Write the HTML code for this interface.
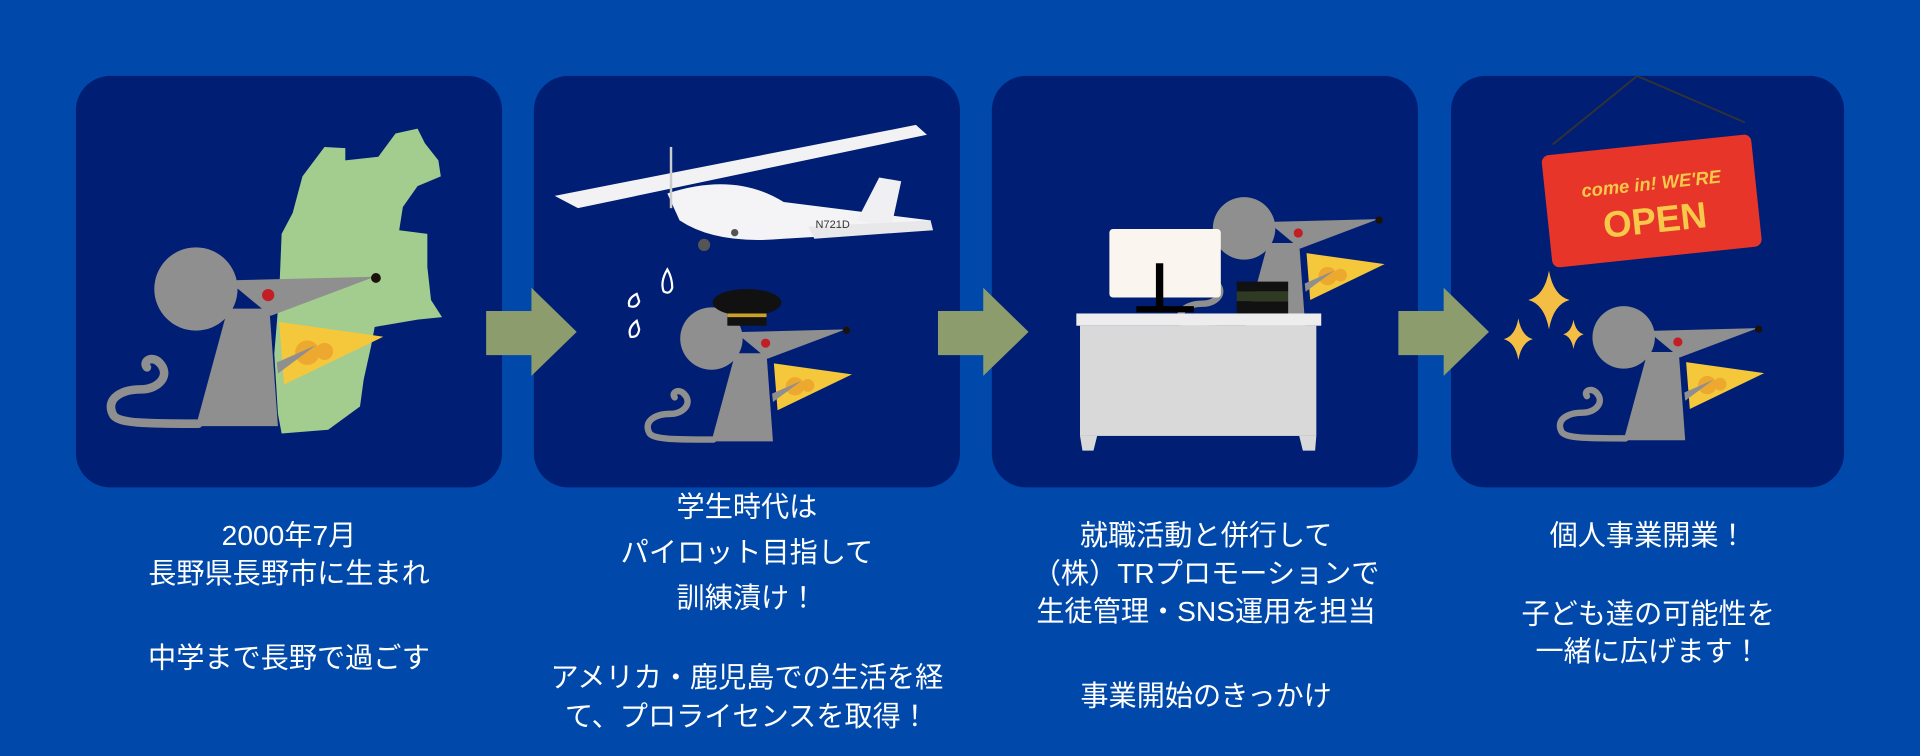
<!DOCTYPE html>
<html><head><meta charset="utf-8"><style>
html,body{margin:0;padding:0;background:#0049AA;}
svg{display:block}
text{font-family:"Liberation Sans","Noto Sans CJK JP",sans-serif;fill:#fff;font-size:23px;text-anchor:middle}
</style></head><body>
<svg width="1920" height="756" viewBox="0 0 1568 617.4" xmlns="http://www.w3.org/2000/svg">
<defs>
<g id="mouse">
  <path d="M162,346 C120,346 95,346 92,338 C86,325 100,318 115,318 C130,318 140,306 130,296 C124,290 116,295 120,300" fill="none" stroke="#8f8f8f" stroke-width="7" stroke-linecap="round"/>
  <circle cx="160" cy="236" r="34" fill="#8f8f8f"/>
  <polygon points="186,229 306,226 221,258" fill="#8f8f8f"/>
  <polygon points="186,252 220,252 227,348 160,348" fill="#8f8f8f"/>
  <circle cx="307" cy="227" r="4" fill="#1a1208"/>
  <circle cx="219" cy="241" r="5" fill="#c21e24"/>
  <polygon points="228,263 313,275 232,314" fill="#F5C83C"/>
  <circle cx="251" cy="288" r="10" fill="#EDA830"/>
  <circle cx="265" cy="287" r="7" fill="#EDA830"/>
  <polygon points="227,305 258,282 226,296" fill="#8f8f8f"/>
</g>
<g id="star"><path d="M0,-20 Q3,-3 14,0 Q3,3 0,20 Q-3,3 -14,0 Q-3,-3 0,-20Z" fill="#F4BE45"/></g>
</defs>
<rect width="1568" height="617.4" fill="#0049AA"/>
<rect x="62" y="62" width="348" height="336" rx="28" fill="#001E73"/>
<rect x="436" y="62" width="348" height="336" rx="28" fill="#001E73"/>
<rect x="810" y="62" width="348" height="336" rx="28" fill="#001E73"/>
<rect x="1185" y="62" width="321" height="336" rx="28" fill="#001E73"/>
<polygon points="397,254 434,254 434,235 471,271 434,307 434,290 397,290" fill="#8C9C6C"/>
<polygon points="766,254 803,254 803,235 840,271 803,307 803,290 766,290" fill="#8C9C6C"/>
<polygon points="1142,254 1179,254 1179,235 1216,271 1179,307 1179,290 1142,290" fill="#8C9C6C"/>
<polygon fill="#A3CD8F" points="265,120 282,121 282,131 309,128 323,109 341,105 347,117 358,131 360,144 341,152 329,169 326,188 349,191 349,218 352,245 361,259 341,261 306,267 303,283 297,310 294,332 268,351 230,354 227,338 224,289 228,240 230,191 239,174 247,144"/>
<use href="#mouse"/>
<polygon points="453,160 748,102 757,110 472,170" fill="#f2f2f4"/>
<path d="M545,158 Q600,140 640,165 L760,180 L758,188 L640,195 Q585,200 555,180 Z" fill="#f4f4f6"/>
<polygon points="700,180 718,145 736,148 728,185" fill="#f0f0f2"/>
<polygon points="660,185 760,180 762,188 665,195" fill="#e8e8ea"/>
<line x1="548" y1="120" x2="548" y2="170" stroke="#ccc" stroke-width="2"/>
<circle cx="575" cy="200" r="5" fill="#555"/><circle cx="600" cy="190" r="3" fill="#555"/>
<text x="680" y="186" style="font-size:9px;fill:#333">N721D</text>
<path d="M545,220 q-6,10 -3,18 q5,3 7,-3 q0,-8 -4,-15z" fill="none" stroke="#fff" stroke-width="1.8"/>
<path d="M520,240 q-8,4 -6,10 q6,2 8,-4z" fill="none" stroke="#fff" stroke-width="1.8"/>
<path d="M520,262 q-8,6 -5,13 q6,1 7,-6z" fill="none" stroke="#fff" stroke-width="1.8"/>
<use href="#mouse" transform="translate(461,99.5) scale(0.75)"/>
<ellipse cx="610" cy="247" rx="28" ry="11" fill="#111"/>
<rect x="594" y="252" width="32" height="14" fill="#111"/>
<rect x="594" y="256" width="32" height="3" fill="#C9A227"/>
<use href="#mouse" transform="translate(896,9.5) scale(0.75)"/>
<rect x="906" y="187" width="91" height="56" rx="3" fill="#FAF5EE"/>
<rect x="944" y="215" width="6" height="37" fill="#000"/>
<rect x="928" y="250" width="47" height="5" fill="#000"/>
<rect x="1010" y="230" width="42" height="8" fill="#111"/>
<rect x="1010" y="238" width="42" height="8" fill="#2f3a22"/>
<rect x="1010" y="246" width="42" height="10" fill="#111"/>
<rect x="879" y="256" width="200" height="10" fill="#EDEDED"/>
<rect x="882" y="266" width="193" height="90" fill="#D9D9D9"/>
<polygon points="882,356 896,356 893,368 884,368" fill="#D9D9D9"/>
<polygon points="1061,356 1075,356 1074,368 1064,368" fill="#D9D9D9"/>
<line x1="1268" y1="118" x2="1337" y2="62" stroke="#333" stroke-width="1.5"/>
<line x1="1425" y1="100" x2="1337" y2="62" stroke="#333" stroke-width="1.5"/>
<g transform="rotate(-6 1350 165)">
<rect x="1263" y="118" width="172" height="92" rx="6" fill="#E8352A"/>
<text x="1350" y="155" style="font-size:15px;fill:#F7C84A;font-style:italic;font-weight:bold">come in! WE'RE</text>
<text x="1350" y="190" style="font-size:30px;fill:#F7C84A;font-weight:bold">OPEN</text>
</g>
<use href="#star" transform="translate(1265,245) scale(1.2)"/>
<use href="#star" transform="translate(1240,277) scale(0.85)"/>
<use href="#star" transform="translate(1285,273) scale(0.6)"/>
<use href="#mouse" transform="translate(1206,98.5) scale(0.75)"/>
<text x="236" y="445">2000年7月</text>
<text x="236" y="476">長野県長野市に生まれ</text>
<text x="236" y="545">中学まで長野で過ごす</text>
<text x="610" y="422">学生時代は</text>
<text x="610" y="459">パイロット目指して</text>
<text x="610" y="496">訓練漬け！</text>
<text x="610" y="561">アメリカ・鹿児島での生活を経</text>
<text x="610" y="593">て、プロライセンスを取得！</text>
<text x="985" y="445">就職活動と併行して</text>
<text x="985" y="476">（株）TRプロモーションで</text>
<text x="985" y="507">生徒管理・SNS運用を担当</text>
<text x="985" y="576">事業開始のきっかけ</text>
<text x="1346" y="445">個人事業開業！</text>
<text x="1346" y="509">子ども達の可能性を</text>
<text x="1346" y="540">一緒に広げます！</text>
</svg>
</body></html>
